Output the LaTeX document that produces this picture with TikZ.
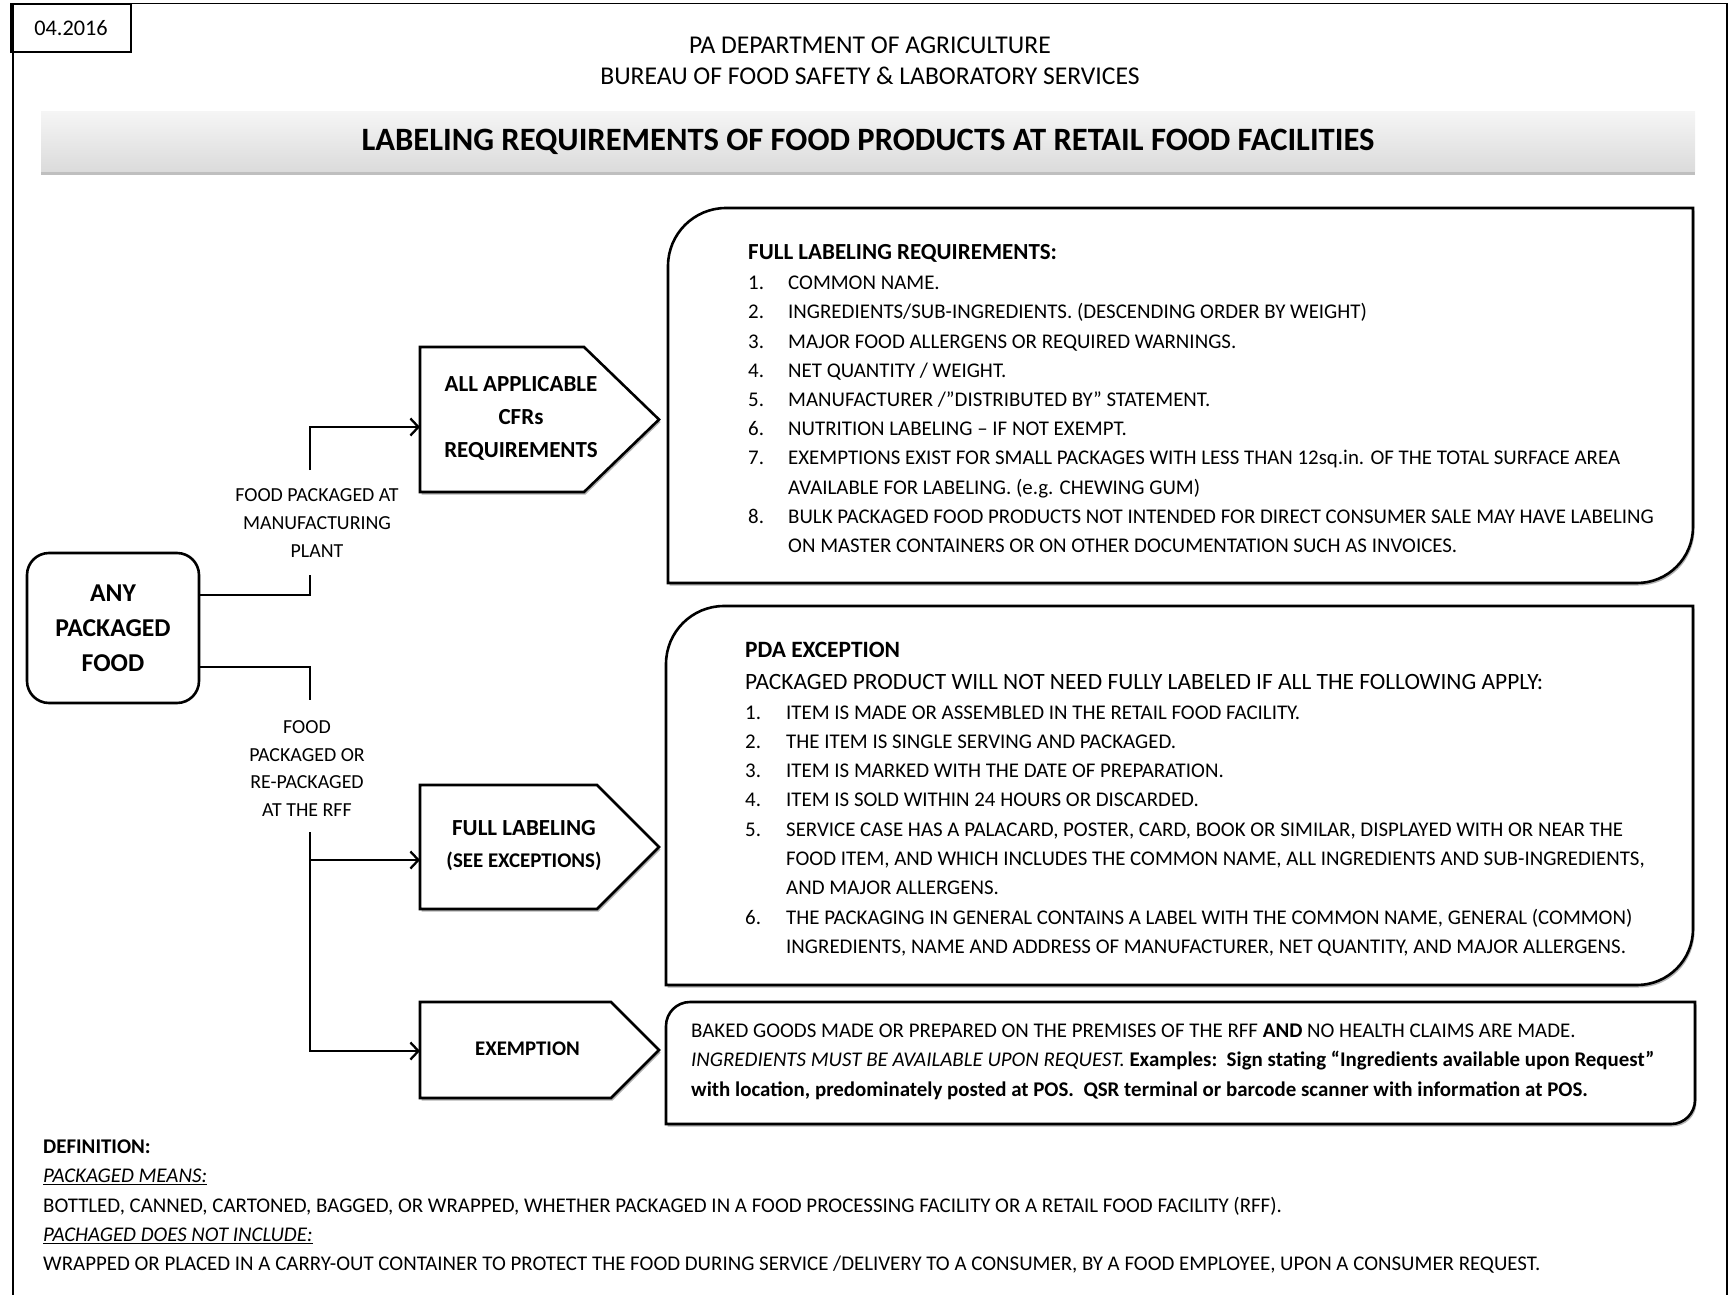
\documentclass[tikz,border=0pt]{standalone}
\usepackage{fontspec}
\setmainfont{Carlito}
\usetikzlibrary{arrows.meta,shadows,calc}
\begin{document}
\begin{tikzpicture}[x=1pt,y=-1pt,
  frame/.style={line width=1.4pt},
  shapeline/.style={line width=2.6pt, draw=black, fill=white,
    drop shadow={shadow xshift=1.5pt, shadow yshift=-2.5pt, fill=black, opacity=0.3}},
  conn/.style={line width=2.3pt},
  arr/.style={conn, -{Straight Barb[length=8pt,width=17pt]}},
  lbl/.style={inner sep=0pt, align=center, font=\fontsize{19.9}{27.6}\selectfont},
  holder/.style={inner sep=0pt, outer sep=0pt},
  penttext/.style={inner sep=0pt, align=center, font=\bfseries\fontsize{23}{33}\selectfont},
  body/.style={inner sep=0pt, anchor=base west}
]
\useasboundingbox (0,0) rectangle (1734,1295);

% outer frame and header
\draw[frame] (13,1295) -- (13,3.5) -- (1727,3.5) -- (1727,1295);
\node[draw, line width=1.4pt, minimum width=120pt, minimum height=48pt, inner sep=0pt,
  font=\fontsize{22.3}{26}\selectfont] (date) at (71,28) {04.2016};
\node[inner sep=0pt, align=center, font=\fontsize{25.6}{31}\selectfont] (title) at (870,61)
  {PA DEPARTMENT OF AGRICULTURE\\BUREAU OF FOOD SAFETY \& LABORATORY SERVICES};
\node[minimum width=1654pt, minimum height=59pt, inner sep=0pt,
  top color=gray!8, bottom color=gray!28,
  drop shadow={shadow xshift=0pt, shadow yshift=-4pt, fill=black, opacity=0.25},
  font=\bfseries\fontsize{32.6}{36}\selectfont] (banner) at (868,141.5)
  {LABELING REQUIREMENTS OF FOOD PRODUCTS AT RETAIL FOOD FACILITIES};

% start box
\node[draw, line width=2.6pt, rounded corners=22pt, fill=white, minimum width=172pt,
  minimum height=150pt, inner sep=0pt, align=center,
  font=\bfseries\fontsize{25.7}{35}\selectfont] (any) at (113,628) {ANY\\PACKAGED\\FOOD};

% pentagon holders
\node[holder, minimum width=239pt, minimum height=145pt] (cfr) at (539.5,419.5) {};
\node[holder, minimum width=239pt, minimum height=124pt] (full) at (539.5,847) {};
\node[holder, minimum width=239pt, minimum height=96pt] (exm) at (539.5,1050) {};
\draw[shapeline] (cfr.north west) -- ($(cfr.north east)+(-75,0)$) -- (cfr.east)
  -- ($(cfr.south east)+(-75,0)$) -- (cfr.south west) -- cycle;
\draw[shapeline] (full.north west) -- ($(full.north east)+(-62,0)$) -- (full.east)
  -- ($(full.south east)+(-62,0)$) -- (full.south west) -- cycle;
\draw[shapeline] (exm.north west) -- ($(exm.north east)+(-48,0)$) -- (exm.east)
  -- ($(exm.south east)+(-48,0)$) -- (exm.south west) -- cycle;
\node[penttext] (cfrtxt) at (521,418) {ALL APPLICABLE\\CFRs\\REQUIREMENTS};
\node[penttext, font=\bfseries\fontsize{23}{32}\selectfont] (fulltxt) at (524,845.5)
  {FULL LABELING\\{\fontsize{20.9}{32}\selectfont (SEE EXCEPTIONS)}};
\node[penttext, font=\bfseries\fontsize{20.8}{30}\selectfont] (exmtxt) at (527.5,1048.5) {EXEMPTION};

% big boxes
\node[holder, minimum width=1025pt, minimum height=375pt] (req) at (1180.5,395.5) {};
\node[holder, minimum width=1027pt, minimum height=379pt] (pda) at (1179.5,795.5) {};
\node[holder, minimum width=1029pt, minimum height=122pt] (exb) at (1180.5,1063) {};
\draw[shapeline] (req.south west) [rounded corners=58pt] -- (req.north west) [sharp corners]
  -- (req.north east) [rounded corners=56pt] -- (req.south east) [sharp corners] -- cycle;
\draw[shapeline] (pda.south west) [rounded corners=58pt] -- (pda.north west) [sharp corners]
  -- (pda.north east) [rounded corners=56pt] -- (pda.south east) [sharp corners] -- cycle;
\draw[shapeline] (exb.south west) [rounded corners=24pt] -- (exb.north west) [sharp corners]
  -- (exb.north east) [rounded corners=24pt] -- (exb.south east) [sharp corners] -- cycle;

% connectors
\node[lbl] (lab1) at (317,523) {FOOD PACKAGED AT\\MANUFACTURING\\PLANT};
\node[lbl] (lab2) at (307,768.5) {FOOD\\PACKAGED OR\\RE-PACKAGED\\AT THE RFF};
\coordinate (e1) at (310,575);
\coordinate (s1) at (310,470);
\coordinate (e2) at (310,700);
\coordinate (s2) at (310,832);
\draw[conn] (any.east |- 0,595) -| (e1);
\draw[arr] (s1) |- (cfr.west |- 0,427);
\draw[conn] (any.east |- 0,667) -| (e2);
\draw[arr] (s2) |- (full.west |- 0,860);
\draw[arr] (s2) |- (exm.west |- 0,1051);

% box texts
\node[body] (reqtxt) at (748,259.5) {\fontsize{20.9}{29.2}\selectfont
\begin{tabular}[t]{@{}p{40pt}@{}l@{}}
\multicolumn{2}{@{}l@{}}{\bfseries\fontsize{23}{29.2}\selectfont FULL LABELING REQUIREMENTS:}\\[1pt]
1. & COMMON NAME.\\
2. & INGREDIENTS/SUB-INGREDIENTS. (DESCENDING ORDER BY WEIGHT)\\
3. & MAJOR FOOD ALLERGENS OR REQUIRED WARNINGS.\\
4. & NET QUANTITY / WEIGHT.\\
5. & MANUFACTURER /”DISTRIBUTED BY” STATEMENT.\\
6. & NUTRITION LABELING – IF NOT EXEMPT.\\
7. & EXEMPTIONS EXIST FOR SMALL PACKAGES WITH LESS THAN 12sq.in. OF THE TOTAL SURFACE AREA\\
   & AVAILABLE FOR LABELING. (e.g. CHEWING GUM)\\
8. & BULK PACKAGED FOOD PRODUCTS NOT INTENDED FOR DIRECT CONSUMER SALE MAY HAVE LABELING\\
   & ON MASTER CONTAINERS OR ON OTHER DOCUMENTATION SUCH AS INVOICES.
\end{tabular}};

\node[body] (pdatxt) at (745,657.8) {\fontsize{20.9}{29.3}\selectfont
\begin{tabular}[t]{@{}p{41pt}@{}l@{}}
\multicolumn{2}{@{}l@{}}{\bfseries\fontsize{23.4}{29.3}\selectfont PDA EXCEPTION}\\[2.6pt]
\multicolumn{2}{@{}l@{}}{\fontsize{23.4}{29.3}\selectfont PACKAGED PRODUCT WILL NOT NEED FULLY LABELED IF ALL THE FOLLOWING APPLY:}\\
1. & ITEM IS MADE OR ASSEMBLED IN THE RETAIL FOOD FACILITY.\\
2. & THE ITEM IS SINGLE SERVING AND PACKAGED.\\
3. & ITEM IS MARKED WITH THE DATE OF PREPARATION.\\
4. & ITEM IS SOLD WITHIN 24 HOURS OR DISCARDED.\\
5. & SERVICE CASE HAS A PALACARD, POSTER, CARD, BOOK OR SIMILAR, DISPLAYED WITH OR NEAR THE\\
   & FOOD ITEM, AND WHICH INCLUDES THE COMMON NAME, ALL INGREDIENTS AND SUB-INGREDIENTS,\\
   & AND MAJOR ALLERGENS.\\
6. & THE PACKAGING IN GENERAL CONTAINS A LABEL WITH THE COMMON NAME, GENERAL (COMMON)\\
   & INGREDIENTS, NAME AND ADDRESS OF MANUFACTURER, NET QUANTITY, AND MAJOR ALLERGENS.
\end{tabular}};

\node[body] (exbtxt) at (691,1037.4) {\fontsize{20.9}{29.3}\selectfont
\begin{tabular}[t]{@{}l@{}}
BAKED GOODS MADE OR PREPARED ON THE PREMISES OF THE RFF \textbf{AND} NO HEALTH CLAIMS ARE MADE.\\
\textit{INGREDIENTS MUST BE AVAILABLE UPON REQUEST.} \textbf{Examples:\ \ Sign stating “Ingredients available upon Request”}\\
\textbf{with location, predominately posted at POS.\ \ QSR terminal or barcode scanner with information at POS.}
\end{tabular}};

% definition
\node[body] (deftxt) at (43,1153.5) {\fontsize{20.9}{29.3}\selectfont
\begin{tabular}[t]{@{}l@{}}
\textbf{DEFINITION:}\\
\underline{\textit{PACKAGED MEANS:}}\\
BOTTLED, CANNED, CARTONED, BAGGED, OR WRAPPED, WHETHER PACKAGED IN A FOOD PROCESSING FACILITY OR A RETAIL FOOD FACILITY (RFF).\\
\underline{\textit{PACHAGED DOES NOT INCLUDE:}}\\
WRAPPED OR PLACED IN A CARRY-OUT CONTAINER TO PROTECT THE FOOD DURING SERVICE /DELIVERY TO A CONSUMER, BY A FOOD EMPLOYEE, UPON A CONSUMER REQUEST.
\end{tabular}};
\end{tikzpicture}
\end{document}
